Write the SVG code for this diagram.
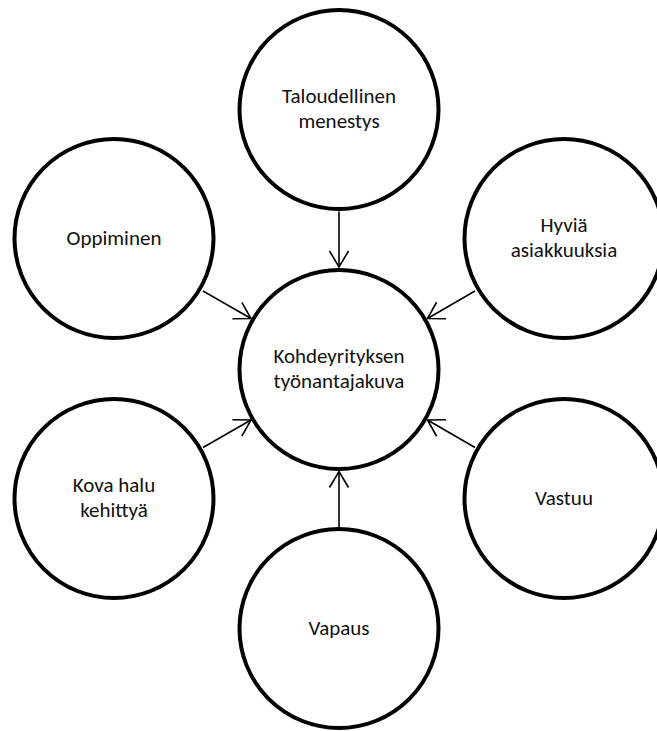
<svg xmlns="http://www.w3.org/2000/svg" width="657" height="731" viewBox="0 0 657 731">
<style>
.node circle{fill:#fff;stroke:#000;stroke-width:4}
.node text{font-family:Carlito,"Liberation Sans",Arial,sans-serif;font-size:21px;fill:#111;text-anchor:middle}
.conn line{stroke:#000;stroke-width:1.6;fill:none}
</style>
<defs>
<marker id="arr" markerUnits="userSpaceOnUse" viewBox="-20 -12 22 24" markerWidth="22" markerHeight="24" refX="0" refY="0" orient="auto">
<path d="M-16,-9.5 L0,0 L-16,9.5" fill="none" stroke="#000" stroke-width="1.6"/>
</marker>
</defs>
<rect width="657" height="731" fill="#fff"/>
<g id="connectors" class="conn">
<line x1="339" y1="211.5" x2="339" y2="267" marker-end="url(#arr)"/>
<line x1="339" y1="527" x2="339" y2="471.5" marker-end="url(#arr)"/>
<line x1="203" y1="291" x2="251" y2="318.5" marker-end="url(#arr)"/>
<line x1="475" y1="291" x2="427.5" y2="318.5" marker-end="url(#arr)"/>
<line x1="203" y1="447.5" x2="251" y2="420" marker-end="url(#arr)"/>
<line x1="475" y1="447.5" x2="427.5" y2="420" marker-end="url(#arr)"/>
</g>
<g id="center" class="node">
<circle cx="339" cy="369.5" r="99.5"/>
<text x="339" y="362.5">Kohdeyrityksen</text>
<text x="339" y="387.5">työnantajakuva</text>
</g>
<g id="taloudellinen" class="node">
<circle cx="339" cy="109.5" r="99.5"/>
<text x="339" y="103">Taloudellinen</text>
<text x="339" y="128">menestys</text>
</g>
<g id="oppiminen" class="node">
<circle cx="114" cy="238.5" r="99.5"/>
<text x="114" y="245">Oppiminen</text>
</g>
<g id="hyvia" class="node">
<circle cx="564" cy="238.5" r="99.5"/>
<text x="564" y="232">Hyviä</text>
<text x="564" y="257">asiakkuuksia</text>
</g>
<g id="kova" class="node">
<circle cx="114" cy="498.5" r="99.5"/>
<text x="114" y="492">Kova halu</text>
<text x="114" y="517">kehittyä</text>
</g>
<g id="vastuu" class="node">
<circle cx="564" cy="498.5" r="99.5"/>
<text x="564" y="505">Vastuu</text>
</g>
<g id="vapaus" class="node">
<circle cx="339" cy="628.5" r="99.5"/>
<text x="339" y="635">Vapaus</text>
</g>
</svg>
